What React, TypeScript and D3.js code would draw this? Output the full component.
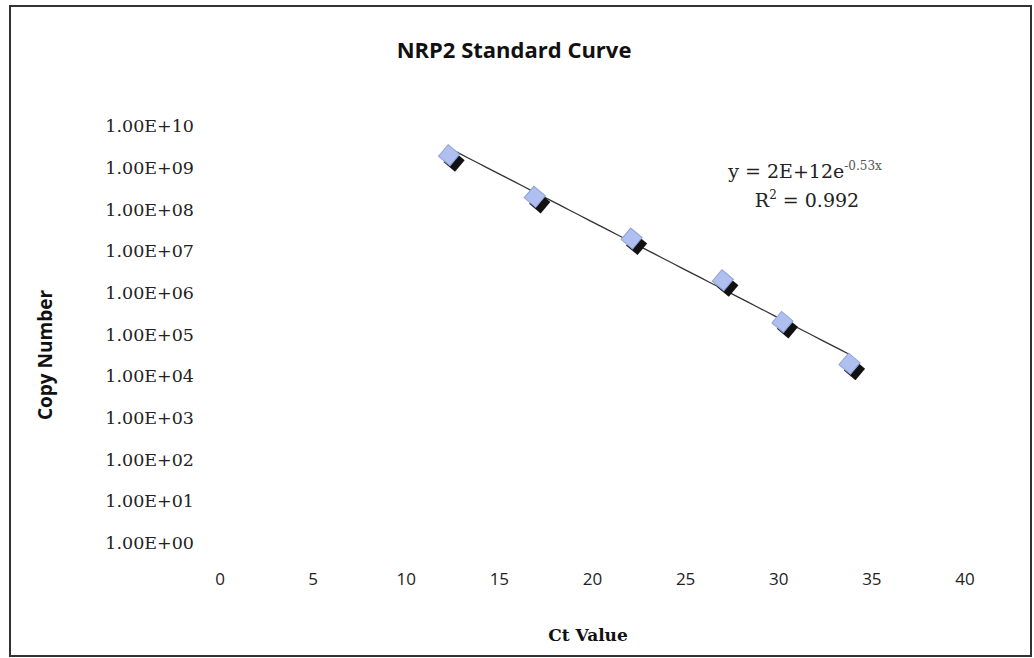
import React, { useEffect, useRef } from 'react'
import * as d3 from 'd3'

const ctValues = [12.3, 16.9, 22.1, 27.0, 30.2, 33.8]
const copyNumbers = [2e9, 2e8, 2e7, 2e6, 2e5, 2e4]
const xTicks = [0, 5, 10, 15, 20, 25, 30, 35, 40]
const yTicks = [1e0, 1e1, 1e2, 1e3, 1e4, 1e5, 1e6, 1e7, 1e8, 1e9, 1e10]
const fitA = 2e12
const fitB = -0.53

const fmtExp = (v: number) => {
  const e = Math.round(Math.log10(v))
  return `1.00E+${e < 10 ? '0' + e : e}`
}

export default function App() {
  const ref = useRef<SVGSVGElement>(null)

  useEffect(() => {
    const svg = d3.select(ref.current)
    svg.selectAll('*').remove()

    const x = d3.scaleLinear().domain([0, 40]).range([220, 965])
    const y = d3.scaleLog().domain([1, 1e10]).range([543, 126])

    svg
      .append('rect')
      .attr('x', 10)
      .attr('y', 6)
      .attr('width', 1021)
      .attr('height', 650)
      .attr('fill', '#fff')
      .attr('stroke', '#333')
      .attr('stroke-width', 2)

    svg
      .append('text')
      .attr('x', 514)
      .attr('y', 58)
      .attr('text-anchor', 'middle')
      .attr('font-family', 'Open Sans, sans-serif')
      .attr('font-weight', 'bold')
      .attr('font-size', 22)
      .attr('fill', '#111')
      .text('NRP2 Standard Curve')

    // y tick labels
    svg
      .append('g')
      .selectAll('text')
      .data(yTicks)
      .join('text')
      .attr('x', 194)
      .attr('y', (d) => y(d))
      .attr('dy', '0.35em')
      .attr('text-anchor', 'end')
      .attr('font-family', 'DejaVu Serif, serif')
      .attr('font-size', 17.5)
      .attr('fill', '#222')
      .text(fmtExp)

    // x tick labels
    svg
      .append('g')
      .selectAll('text')
      .data(xTicks)
      .join('text')
      .attr('x', (d) => x(d))
      .attr('y', 585)
      .attr('text-anchor', 'middle')
      .attr('font-family', 'Open Sans, sans-serif')
      .attr('font-size', 17)
      .attr('fill', '#222')
      .text((d) => d)

    svg
      .append('text')
      .attr('x', 588)
      .attr('y', 641)
      .attr('text-anchor', 'middle')
      .attr('font-family', 'DejaVu Serif, serif')
      .attr('font-weight', 'bold')
      .attr('font-size', 17)
      .attr('fill', '#111')
      .text('Ct Value')

    svg
      .append('text')
      .attr('transform', 'translate(52,355) rotate(-90)')
      .attr('text-anchor', 'middle')
      .attr('font-family', 'Open Sans, sans-serif')
      .attr('font-weight', 'bold')
      .attr('font-size', 19)
      .attr('fill', '#111')
      .text('Copy Number')

    // trendline
    const x0 = d3.min(ctValues) as number
    const x1 = d3.max(ctValues) as number
    const line = d3
      .line<number>()
      .x((d) => x(d))
      .y((d) => y(fitA * Math.exp(fitB * d)))
    svg
      .append('path')
      .datum(d3.range(x0, x1, 0.5).concat([x1]))
      .attr('d', line)
      .attr('fill', 'none')
      .attr('stroke', '#333')
      .attr('stroke-width', 1.3)

    const pts = ctValues.map((c, i) => [c, copyNumbers[i]])
    const s = 15
    const g = svg.append('g')
    // shadow
    g.selectAll('rect.shadow')
      .data(pts)
      .join('rect')
      .attr('class', 'shadow')
      .attr('x', -s / 2)
      .attr('y', -s / 2)
      .attr('width', s)
      .attr('height', s)
      .attr('fill', '#111')
      .attr('transform', (d) => `translate(${x(d[0]) + 5},${y(d[1]) + 6}) rotate(40)`)
    g.selectAll('rect.mark')
      .data(pts)
      .join('rect')
      .attr('class', 'mark')
      .attr('x', -s / 2)
      .attr('y', -s / 2)
      .attr('width', s)
      .attr('height', s)
      .attr('fill', '#aebff0')
      .attr('stroke', '#8fa3d6')
      .attr('stroke-width', 1)
      .attr('transform', (d) => `translate(${x(d[0])},${y(d[1])}) rotate(40)`)

    // equation
    const eq = svg
      .append('text')
      .attr('x', 805)
      .attr('y', 178)
      .attr('text-anchor', 'middle')
      .attr('font-family', 'DejaVu Serif, serif')
      .attr('font-size', 19)
      .attr('fill', '#222')
    eq.append('tspan').text('y = 2E+12e')
    eq.append('tspan').attr('dy', -8).attr('font-size', 12).attr('fill', '#555').text('-0.53x')
    const r2 = svg
      .append('text')
      .attr('x', 807)
      .attr('y', 207)
      .attr('text-anchor', 'middle')
      .attr('font-family', 'DejaVu Serif, serif')
      .attr('font-size', 19)
      .attr('fill', '#222')
    r2.append('tspan').text('R')
    r2.append('tspan').attr('dy', -8).attr('font-size', 12).text('2')
    r2.append('tspan').attr('dy', 8).text(' = 0.992')
  }, [])

  return (
    <svg
      ref={ref}
      width={1034}
      height={658}
      style={{ position: 'absolute', left: 0, top: 0 }}
    />
  )
}
